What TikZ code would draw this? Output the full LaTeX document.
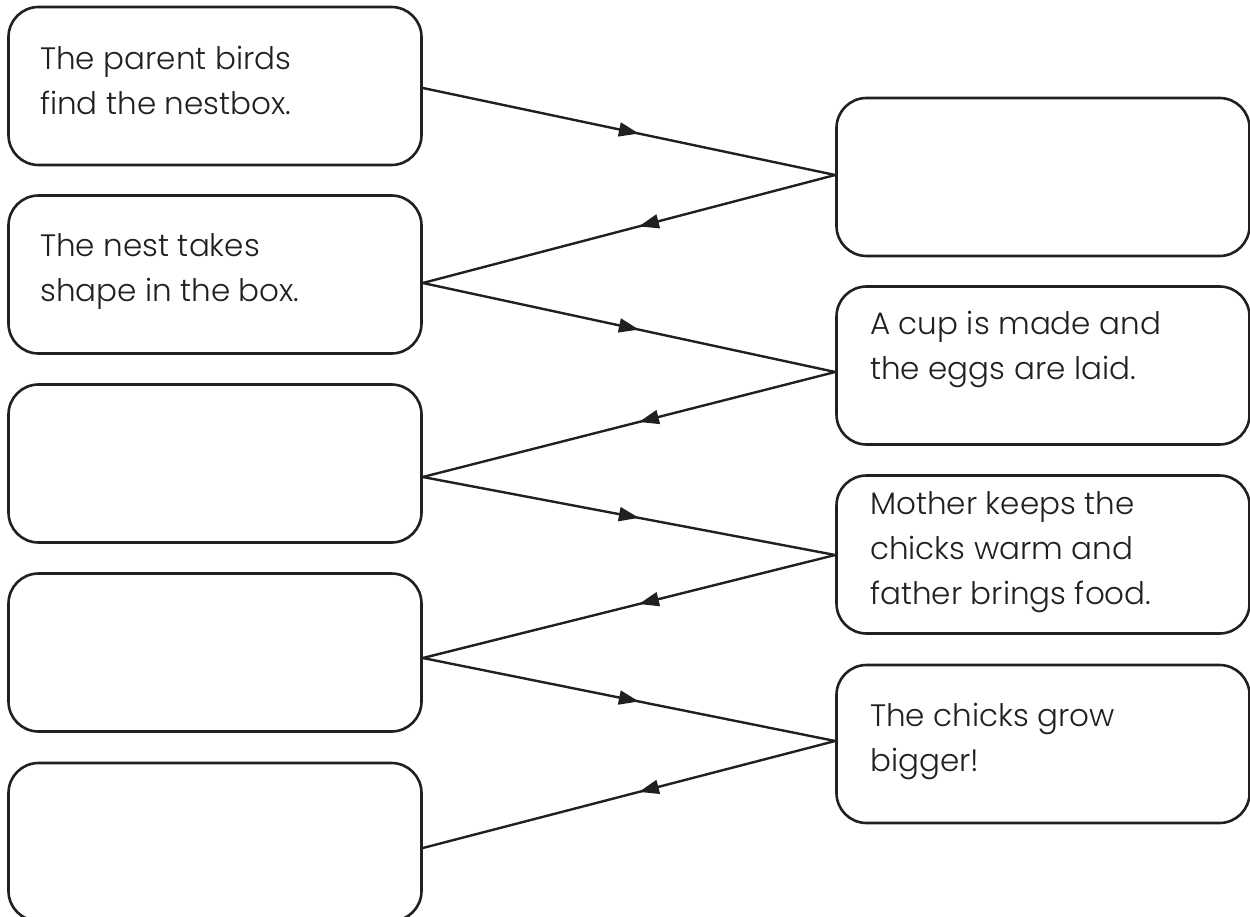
\documentclass[tikz,border=0pt]{standalone}
\usepackage{fontspec}
\setmainfont{Poppins}[UprightFont=* Light]
\usetikzlibrary{arrows.meta,decorations.markings}
\definecolor{ink}{HTML}{231F20}
\begin{document}
\begin{tikzpicture}[x=1pt,y=-1pt,
  card/.style={draw=ink, line width=2.6pt, rounded corners=30pt, inner sep=0pt,
    minimum width=413pt, minimum height=158pt},
  label/.style={anchor=north west, align=left, inner sep=0pt, text=ink,
    font=\fontsize{31pt}{45pt}\selectfont},
  link/.style={draw=ink, line width=2.4pt, postaction={decorate}},
  tipR/.style={decoration={markings, mark=at position 0.524 with {\arrow{Triangle[length=20pt,width=14pt]}}}},
  tipL/.style={decoration={markings, mark=at position 0.476 with {\arrow{Triangle[length=20pt,width=14pt]}}}}
]
\useasboundingbox (0,0) rectangle (1250,917);
% left boxes
\node[card] (L1) at (215,86) {};
\node[card] (L2) at (215,274.5) {};
\node[card] (L3) at (215,463.5) {};
\node[card] (L4) at (215,652.5) {};
\node[card] (L5) at (215,842) {};
% right boxes
\node[card] (R1) at (1043,177) {};
\node[card] (R2) at (1043,365.5) {};
\node[card] (R3) at (1043,554.5) {};
\node[card] (R4) at (1043,744) {};
% texts
\node[label] (t1) at (40,46) {The parent birds\\find the nestbox.};
\node[label] (t2) at (40,233) {The nest takes\\shape in the box.};
\node[label] (t3) at (870,311) {A cup is made and\\the eggs are laid.};
\node[label] (t4) at (870,491) {Mother keeps the\\chicks warm and\\father brings food.};
\node[label] (t5) at (870,703) {The chicks grow\\bigger!};
% connection points
\coordinate (a1) at (L1.east |- 0,88);
\coordinate (a2) at (L2.east |- 0,283);
\coordinate (a3) at (L3.east |- 0,477);
\coordinate (a4) at (L4.east |- 0,658);
\coordinate (a5) at (L5.east |- 0,848);
\coordinate (b1) at (R1.west |- 0,175);
\coordinate (b2) at (R2.west |- 0,372);
\coordinate (b3) at (R3.west |- 0,555);
\coordinate (b4) at (R4.west |- 0,741);
% connectors
\path[link,tipR] (a1) -- (b1);
\path[link,tipL] (b1) -- (a2);
\path[link,tipR] (a2) -- (b2);
\path[link,tipL] (b2) -- (a3);
\path[link,tipR] (a3) -- (b3);
\path[link,tipL] (b3) -- (a4);
\path[link,tipR] (a4) -- (b4);
\path[link,tipL] (b4) -- (a5);
\end{tikzpicture}
\end{document}
